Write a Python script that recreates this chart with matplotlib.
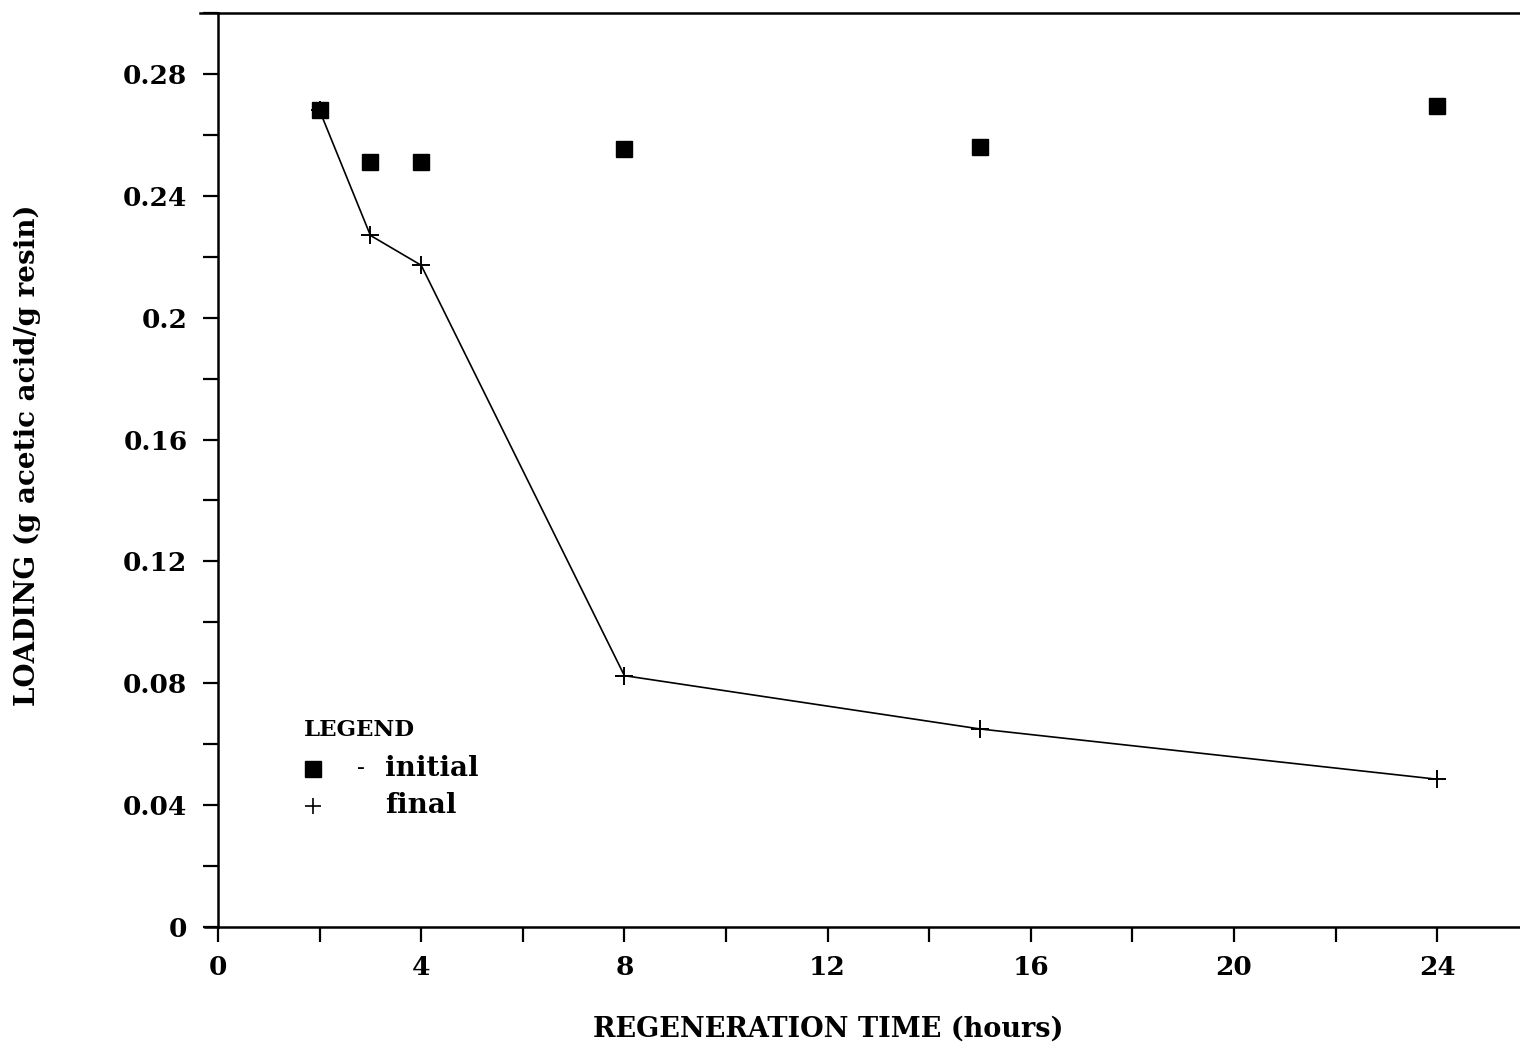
import numpy as np
import matplotlib.pyplot as plt
from matplotlib.ticker import MultipleLocator, FuncFormatter

# regeneration time (hours) and resin loading (g acetic acid / g resin)
hours = [2, 3, 4, 8, 15, 24]
initial = [0.268, 0.251, 0.251, 0.2555, 0.256, 0.2695]
final = [0.268, 0.227, 0.2172, 0.0825, 0.065, 0.0485]

x_ticks = [0, 4, 8, 12, 16, 20, 24]
y_ticks = [0, 0.04, 0.08, 0.12, 0.16, 0.2, 0.24, 0.28]

plt.rcParams['font.family'] = ['DejaVu Serif']

fig = plt.figure(figsize=(15.2, 10.49), dpi=100)
ax = fig.add_axes([218 / 1520, 1 - 927 / 1049, 1 - 218 / 1520, (927 - 13) / 1049])

ax.plot(hours, final, color='black', lw=1.2, marker='+', ms=13, mew=1.4, zorder=3)
ax.plot(hours, initial, ls='none', marker='s', ms=12, color='black', zorder=4)

ax.set_xlim(0, 25.63)
ax.set_ylim(0, 0.30)
ax.set_xticks(x_ticks)
ax.set_yticks(y_ticks)
ax.xaxis.set_minor_locator(MultipleLocator(2))
ax.yaxis.set_minor_locator(MultipleLocator(0.02))
ax.yaxis.set_major_formatter(FuncFormatter(lambda v, p: '0' if v == 0 else ('%.2f' % v).rstrip('0')))

for s in ['left', 'bottom', 'top']:
    ax.spines[s].set_linewidth(1.8)
ax.spines['right'].set_visible(False)
ax.tick_params(which='both', direction='out', length=11, width=1.6,
               top=False, right=False, labelsize=19)
ax.tick_params(axis='x', pad=9)
ax.tick_params(axis='y', pad=11)
for lab in ax.get_xticklabels() + ax.get_yticklabels():
    lab.set_fontweight('bold')

# small overhang of the frame lines past the y axis
ax.plot([-0.014, 0], [1, 1], color='black', lw=1.8, transform=ax.transAxes, clip_on=False)
ax.plot([-0.01, 0], [0, 0], color='black', lw=1.8, transform=ax.transAxes, clip_on=False)

ax.set_xlabel('REGENERATION TIME (hours)', fontsize=19.5, fontweight='bold')
ax.set_ylabel('LOADING (g acetic acid/g resin)', fontsize=20, fontweight='bold')
ax.xaxis.set_label_coords(0.4685, -0.097)
ax.yaxis.set_label_coords(-0.136, 0.516)

# hand-drawn style legend
ax.text(0.066, 0.2155, 'LEGEND', transform=ax.transAxes, fontsize=16.5,
        fontweight='bold', va='center')
ax.plot([0.073], [0.1729], marker='s', ms=11, color='black', transform=ax.transAxes)
ax.plot([0.073], [0.1324], marker='+', ms=11, mew=1.2, color='black', transform=ax.transAxes)
ax.text(0.107, 0.1729, '-', transform=ax.transAxes, fontsize=17, va='center')
ax.text(0.1283, 0.1729, 'initial', transform=ax.transAxes, fontsize=20,
        fontweight='bold', va='center')
ax.text(0.1283, 0.1324, 'final', transform=ax.transAxes, fontsize=20,
        fontweight='bold', va='center')

fig.savefig('out.png', dpi=100)
